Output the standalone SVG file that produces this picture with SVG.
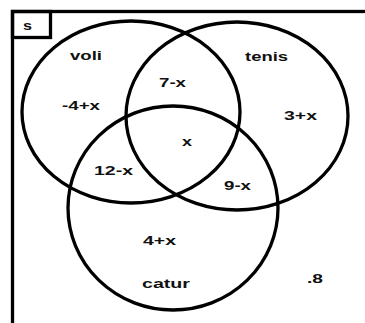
<svg xmlns="http://www.w3.org/2000/svg" width="365" height="323" viewBox="0 0 365 323">
<style>
.ln{fill:none;stroke:#000;stroke-width:3.3}
.t{font-family:"Liberation Sans",Arial,sans-serif;font-weight:bold;font-size:13px;fill:#111}
</style>
<rect width="365" height="323" fill="#fff"/>
<g id="frame">
<rect class="ln" x="12.5" y="11.5" width="360" height="320"/>
</g>
<g id="s-box">
<rect class="ln" x="12.5" y="11.5" width="38" height="26"/>
<text class="t" x="23" y="29.5" font-size="11.5" textLength="9" lengthAdjust="spacingAndGlyphs">s</text>
</g>
<g id="voli">
<ellipse class="ln" cx="131" cy="112" rx="109" ry="91"/>
<text class="t" x="70" y="59.5" textLength="32" lengthAdjust="spacingAndGlyphs">voli</text>
</g>
<g id="tenis">
<ellipse class="ln" cx="237" cy="116" rx="111" ry="94"/>
<text class="t" x="245" y="60.5" textLength="43" lengthAdjust="spacingAndGlyphs">tenis</text>
</g>
<g id="catur">
<ellipse class="ln" cx="173" cy="208" rx="105" ry="102"/>
<text class="t" x="142" y="288" textLength="48" lengthAdjust="spacingAndGlyphs">catur</text>
</g>
<g id="labels">
<text class="t" x="159" y="87" textLength="27" lengthAdjust="spacingAndGlyphs">7-x</text>
<text class="t" x="62" y="109.5" textLength="38" lengthAdjust="spacingAndGlyphs">-4+x</text>
<text class="t" x="284" y="120" textLength="33" lengthAdjust="spacingAndGlyphs">3+x</text>
<text class="t" x="182" y="146" textLength="10" lengthAdjust="spacingAndGlyphs">x</text>
<text class="t" x="94" y="174.5" textLength="39" lengthAdjust="spacingAndGlyphs">12-x</text>
<text class="t" x="224" y="190" textLength="27" lengthAdjust="spacingAndGlyphs">9-x</text>
<text class="t" x="143" y="245" textLength="33" lengthAdjust="spacingAndGlyphs">4+x</text>
<text class="t" x="307" y="283" textLength="16" lengthAdjust="spacingAndGlyphs">.8</text>
</g>
</svg>
